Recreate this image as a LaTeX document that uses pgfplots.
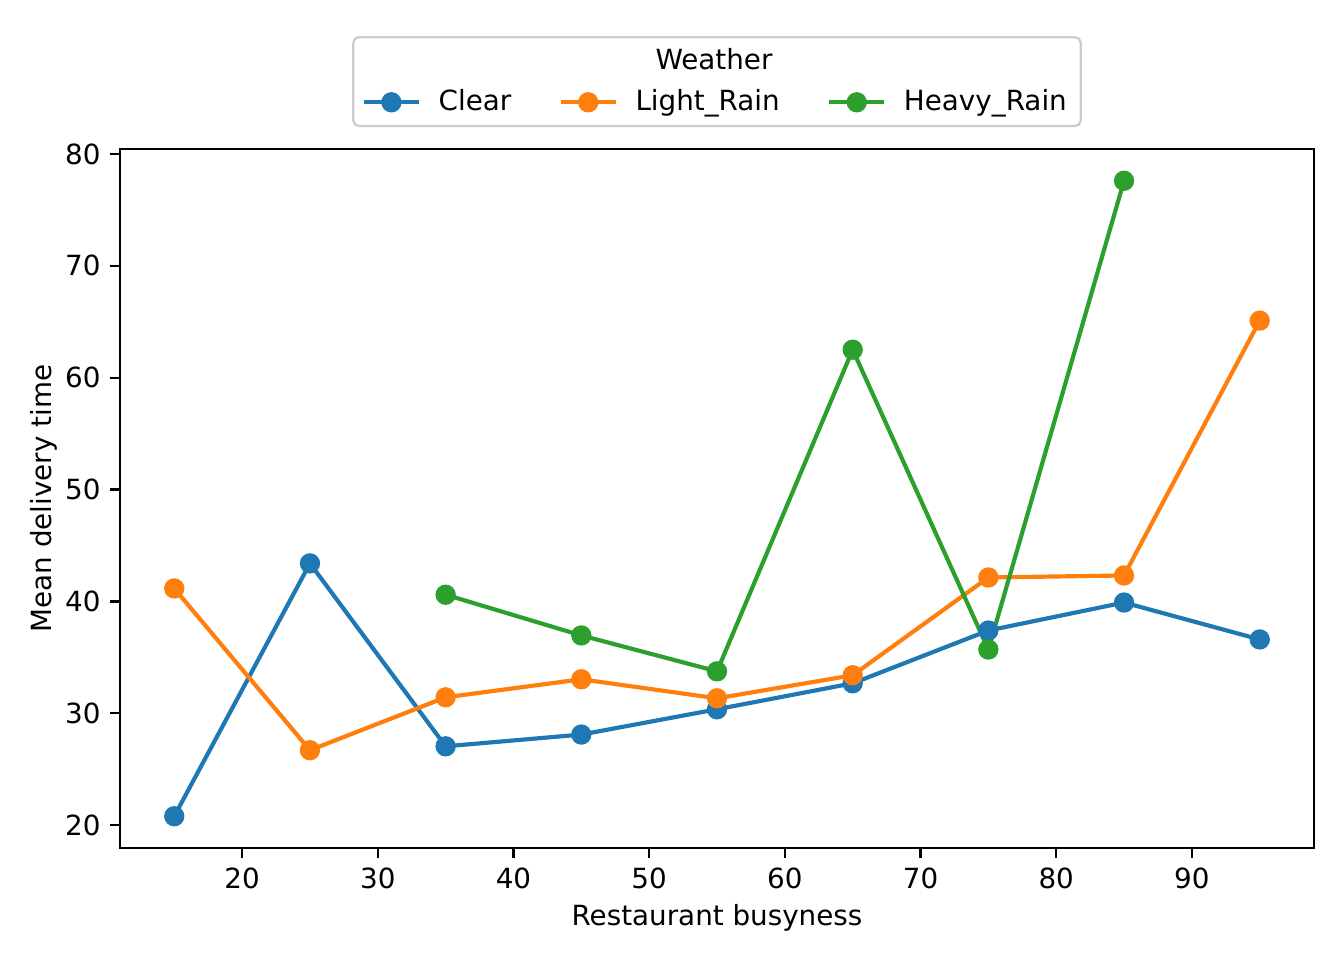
\documentclass[border=0pt]{standalone}
\usepackage{fontspec}
\setmainfont{DejaVu Sans}
\usepackage{pgfplots}
\pgfplotsset{compat=1.18}
\definecolor{c0}{HTML}{1F77B4}
\definecolor{c1}{HTML}{FF7F0E}
\definecolor{c2}{HTML}{2CA02C}
\begin{document}
\begin{tikzpicture}
\path[use as bounding box] (-43.2pt,-40.32pt) rectangle (440.64pt,305.28pt);
\begin{axis}[at={(0,0)}, anchor=south west, scale only axis,
 width=429.84pt, height=251.64pt,
 xmin=11, xmax=99, ymin=17.96, ymax=80.44,
 xtick={20,30,...,90}, ytick={20,30,...,80},
 tick align=outside, tick pos=left, major tick length=3.5pt,
 every tick/.style={black, line width=0.8pt},
 axis line style={line width=0.8pt},
 /pgf/number format/assume math mode=true,
 tick label style={font=\fontsize{10}{12}\selectfont},
 label style={font=\fontsize{10}{12}\selectfont},
 xlabel={Restaurant busyness}, ylabel={Mean delivery time},
 ylabel shift=-4pt, xlabel shift=-1pt,
 legend columns=3,
 legend cell align=left,
 legend style={at={(0.5,1)}, anchor=south, yshift=7.86pt, draw=black!20, line width=0.8pt,
   rounded corners=2pt, font=\fontsize{10}{12}\selectfont, row sep=1.8pt,
   /tikz/every even column/.append style={column sep=15pt}},
 legend image code/.code={\draw[#1, mark repeat=2, mark phase=2] plot coordinates {(0cm,0cm) (0.35cm,0cm) (0.7cm,0cm)};},
 every axis plot/.append style={line width=1.5pt, mark=*, mark size=2.9pt, mark options={solid, line width=1pt}},
]
\addlegendimage{empty legend}\addlegendentry{}
\addlegendimage{empty legend}\addlegendentry{\hspace{11.5pt}Weather}
\addlegendimage{empty legend}\addlegendentry{}
\addplot[color=c0, mark options={fill=c0}] coordinates {
(15,20.8) (25,43.4) (35,27.05) (45,28.1) (55,30.36) (65,32.68) (75,37.4) (85,39.9) (95,36.6)};
\addlegendentry{\hspace{4.3pt}Clear}
\addplot[color=c1, mark options={fill=c1}] coordinates {
(15,41.16) (25,26.7) (35,31.43) (45,33.04) (55,31.34) (65,33.4) (75,42.14) (85,42.32) (95,65.1)};
\addlegendentry{\hspace{4.3pt}Light\_Rain}
\addplot[color=c2, mark options={fill=c2}] coordinates {
(35,40.6) (45,36.96) (55,33.75) (65,62.5) (75,35.7) (85,77.6)};
\addlegendentry{\hspace{4.3pt}Heavy\_Rain}
\end{axis}
\end{tikzpicture}
\end{document}
